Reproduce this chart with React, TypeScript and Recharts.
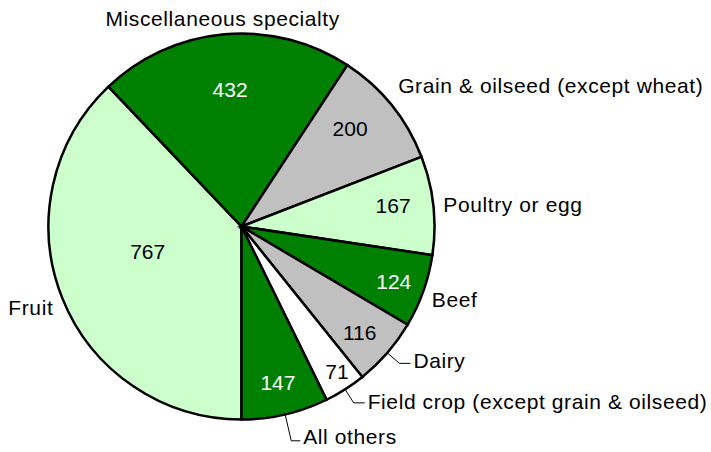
import { PieChart, Pie, Cell } from 'recharts';

const categories = [
  'Fruit',
  'Miscellaneous specialty',
  'Grain & oilseed (except wheat)',
  'Poultry or egg',
  'Beef',
  'Dairy',
  'Field crop (except grain & oilseed)',
  'All others',
];
const values = [767, 432, 200, 167, 124, 116, 71, 147];

const data = categories.map((name, i) => ({ name, value: values[i] }));

const DARK = '#008000';
const LIGHT = '#CCFFCC';
const GRAY = '#C0C0C0';
const colors = [LIGHT, DARK, GRAY, LIGHT, DARK, GRAY, '#FFFFFF', DARK];

// label placement: radius in px, angle offset from slice middle
const valuePos = [
  { r: 97, da: -7 },
  { r: 137, da: -0.4 },
  { r: 146, da: 3 },
  { r: 153, da: 1.4 },
  { r: 162, da: -0.4 },
  { r: 159, da: -1.1 },
  { r: 174, da: 0.8 },
  { r: 160, da: 0.1 },
];
const namePos: { r: number; da: number; anchor?: string; elbow?: number; dx?: number; dy?: number }[] = [
  { r: 205, da: 1.6, anchor: 'end' },
  { r: 209, da: 0, anchor: 'middle' },
  { r: 211, da: 3.1, anchor: 'start' },
  { r: 203, da: -0.2, anchor: 'start' },
  { r: 204, da: -1.5, anchor: 'start' },
  { r: 0, da: 0, elbow: 209, dx: 14, dy: -3 },
  { r: 0, da: 0, elbow: 209, dx: 14, dy: -1 },
  { r: 0, da: 0, elbow: 220, dx: 12, dy: -4 },
];

const RAD = Math.PI / 180;
const FONT = 'Liberation Sans, Arial, sans-serif';
const SPACING = 0.6;

const polar = (cx: number, cy: number, r: number, a: number) => ({
  x: cx + r * Math.cos(-a * RAD),
  y: cy + r * Math.sin(-a * RAD),
});

const renderLabel = (props: any) => {
  const { cx, cy, midAngle, outerRadius, index, value } = props;
  const vp = valuePos[index];
  const v = polar(cx, cy, vp.r, midAngle + vp.da);
  const np = namePos[index];
  const textColor = colors[index] === DARK ? '#FFFFFF' : '#000000';
  let nameEl;
  if (np.elbow) {
    const p0 = polar(cx, cy, outerRadius, midAngle);
    const p1 = polar(cx, cy, np.elbow, midAngle);
    const tx = p1.x + (np.dx || 0);
    nameEl = (
      <g>
        <polyline
          points={`${p0.x},${p0.y} ${p1.x},${p1.y} ${tx - 3},${p1.y}`}
          fill="none"
          stroke="#000"
          strokeWidth={1}
        />
        <text x={tx} y={p1.y + (np.dy || 0)} textAnchor="start" dominantBaseline="central" fill="#000" fontSize={21} letterSpacing={SPACING} fontFamily={FONT}>
          {categories[index]}
        </text>
      </g>
    );
  } else {
    const p = polar(cx, cy, np.r, midAngle + np.da);
    nameEl = (
      <text x={p.x} y={p.y} textAnchor={np.anchor} dominantBaseline="central" fill="#000" fontSize={21} letterSpacing={SPACING} fontFamily={FONT}>
        {categories[index]}
      </text>
    );
  }
  return (
    <g>
      <text x={v.x} y={v.y} textAnchor="middle" dominantBaseline="central" fill={textColor} fontSize={21} fontFamily={FONT}>
        {value}
      </text>
      {nameEl}
    </g>
  );
};

export default function App() {
  return (
    <div style={{ position: 'absolute', left: 0, top: 0, background: '#fff' }}>
      <PieChart width={711} height={452} margin={{ top: 0, right: 0, bottom: 0, left: 0 }}>
        <Pie
          data={data}
          dataKey="value"
          nameKey="name"
          cx={241.5}
          cy={226.5}
          outerRadius={193}
          startAngle={270}
          endAngle={-90}
          stroke="#000"
          strokeWidth={2.5}
          label={renderLabel}
          labelLine={false}
          isAnimationActive={false}
        >
          {data.map((d, i) => (
            <Cell key={d.name} fill={colors[i]} />
          ))}
        </Pie>
      </PieChart>
    </div>
  );
}
